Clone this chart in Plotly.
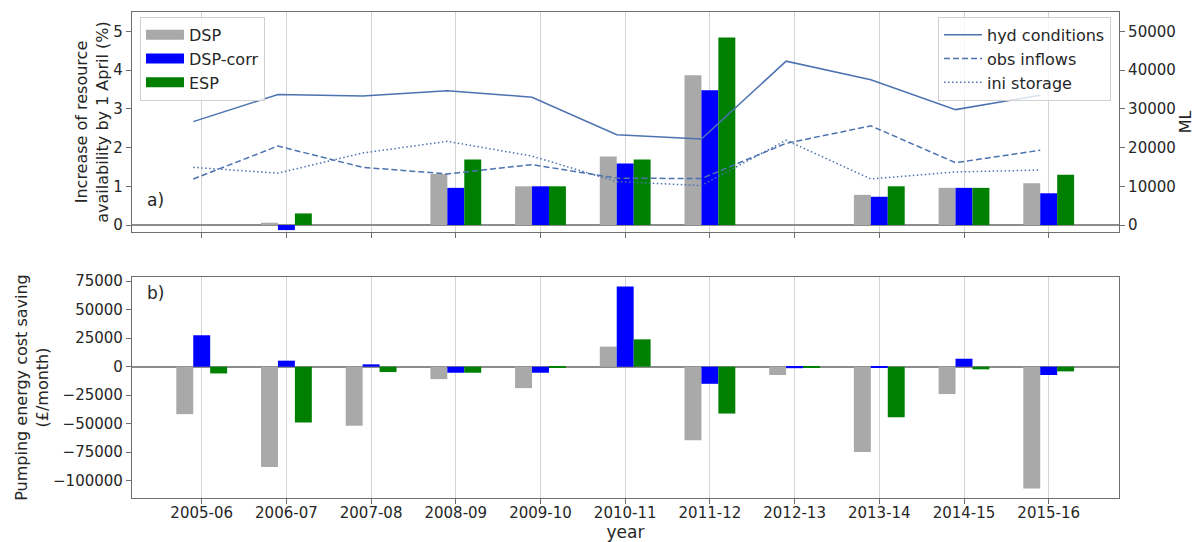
import numpy as np
import plotly.graph_objects as go

# Water years
years = ["2005-06", "2006-07", "2007-08", "2008-09", "2009-10", "2010-11",
         "2011-12", "2012-13", "2013-14", "2014-15", "2015-16"]

# a) Increase of resource availability by 1 April (%)
avail_dsp = [0.0, 0.06, 0.0, 1.32, 1.00, 1.77, 3.87, 0.0, 0.78, 0.96, 1.08]
avail_dsp_corr = [0.0, -0.13, 0.0, 0.96, 1.00, 1.59, 3.48, 0.0, 0.73, 0.96, 0.82]
avail_esp = [0.0, 0.30, 0.0, 1.69, 1.00, 1.69, 4.84, 0.0, 1.00, 0.96, 1.30]

# a) Hydrological indicators (ML)
hyd_conditions = [26700, 33700, 33300, 34700, 33000, 23300, 22200, 42300, 37500, 29800, 33500]
obs_inflows = [11900, 20400, 14900, 13200, 15600, 12100, 12000, 21100, 25600, 16100, 19300]
ini_storage = [14900, 13400, 18600, 21600, 17800, 11200, 10200, 21900, 11900, 13700, 14200]

# b) Pumping energy cost saving (GBP/month)
cost_dsp = [-41600, -88000, -51900, -10900, -18800, 17600, -64500, -7300, -74800, -24000, -106800]
cost_dsp_corr = [27600, 5300, 2100, -5300, -5300, 70400, -15000, -1300, -1000, 7000, -7300]
cost_esp = [-5900, -49000, -4700, -5300, -1000, 24000, -41100, -300, -44300, -2300, -4100]

GREY = "#a9a9a9"
BLUE = "#0000ff"
GREEN = "#008000"
LINE = "#4c72b0"
TXT = "#262626"
FRAME = "#6e6e6e"
GRID = "#d3d3d3"

idx = np.arange(len(years))
bw = 0.2

fig = go.Figure()

bar_sets = [
    ("DSP", GREY, -bw, avail_dsp, cost_dsp),
    ("DSP-corr", BLUE, 0.0, avail_dsp_corr, cost_dsp_corr),
    ("ESP", GREEN, bw, avail_esp, cost_esp),
]

for name, col, off, top_vals, bot_vals in bar_sets:
    fig.add_trace(go.Bar(x=idx + off, y=top_vals, width=bw, marker_color=col,
                         marker_line_width=0, showlegend=False,
                         xaxis="x", yaxis="y", name=name))
    fig.add_trace(go.Bar(x=idx + off, y=bot_vals, width=bw, marker_color=col,
                         marker_line_width=0, showlegend=False,
                         xaxis="x2", yaxis="y3", name=name))
    # wide swatch for the bar legend
    fig.add_trace(go.Scatter(x=[None], y=[None], mode="lines",
                             line=dict(color=col, width=11), name=name,
                             legend="legend", legendgroup=name,
                             xaxis="x", yaxis="y"))

line_sets = [
    ("hyd conditions", hyd_conditions, "solid"),
    ("obs inflows", obs_inflows, "6px,3px"),
    ("ini storage", ini_storage, "1.5px,2.5px"),
]
for name, vals, dash in line_sets:
    fig.add_trace(go.Scatter(x=idx - 0.1, y=vals, mode="lines", name=name,
                             line=dict(color=LINE, width=1.5, dash=dash),
                             legend="legend2", legendgroup=name,
                             xaxis="x", yaxis="y2"))

xr = [-0.823, 10.83]
top_dom = [0.5473, 1.0]
bot_dom = [0.0, 0.4547]

axis_common = dict(showline=True, linecolor=FRAME, linewidth=1.2, mirror=True,
                   ticks="outside", ticklen=5, tickcolor=FRAME, automargin=False,
                   tickfont=dict(size=15, color=TXT))

fig.update_layout(
    width=1200, height=542,
    margin=dict(l=132, r=81, t=12, b=44, autoexpand=False),
    paper_bgcolor="white", plot_bgcolor="white",
    font=dict(family="DejaVu Sans", color=TXT),
    barmode="overlay",
    xaxis=dict(domain=[0, 1], anchor="y", range=xr, tickvals=idx.tolist(),
               showticklabels=False, showgrid=True, gridcolor=GRID, gridwidth=1,
               zeroline=False, layer="above traces", **axis_common),
    yaxis=dict(domain=top_dom, anchor="x", range=[-0.18, 5.5],
               tickvals=[0, 1, 2, 3, 4, 5], showgrid=False,
               zeroline=True, zerolinecolor="#8c8c8c", zerolinewidth=1.5,
               title=dict(text="Increase of resource<br>availability by 1 April (%)",
                          font=dict(size=16, color=TXT), standoff=0),
               **axis_common),
    yaxis2=dict(overlaying="y", side="right", anchor="x", range=[-1800, 55000],
                tickvals=[0, 10000, 20000, 30000, 40000, 50000], tickformat="d",
                showgrid=False, zeroline=False, automargin=False,
                showline=True, linecolor=FRAME, linewidth=1.2,
                ticks="outside", ticklen=5, tickcolor=FRAME,
                tickfont=dict(size=15, color=TXT),
                title=dict(text="ML", font=dict(size=16, color=TXT), standoff=4)),
    xaxis2=dict(domain=[0, 1], anchor="y3", range=xr, tickvals=idx.tolist(),
                ticktext=years, showgrid=True, gridcolor=GRID, gridwidth=1,
                zeroline=False, layer="above traces", ticklabelstandoff=-4,
                title=dict(text="year", font=dict(size=17, color=TXT), standoff=0),
                **axis_common),
    yaxis3=dict(domain=bot_dom, anchor="x2", range=[-115200, 78700],
                tickvals=[-100000, -75000, -50000, -25000, 0, 25000, 50000, 75000],
                tickformat="d", showgrid=False,
                zeroline=True, zerolinecolor="#8c8c8c", zerolinewidth=1.5,
                title=dict(text="Pumping energy cost saving<br>(£/month)",
                           font=dict(size=16, color=TXT), standoff=0),
                **axis_common),
    legend=dict(x=0.0081, y=0.99, xanchor="left", yanchor="top",
                bgcolor="rgba(255,255,255,0.8)", bordercolor="#d0d0d0", borderwidth=1,
                font=dict(size=16, color=TXT), tracegroupgap=0, itemwidth=38),
    legend2=dict(x=0.9919, y=0.99, xanchor="right", yanchor="top",
                 bgcolor="rgba(255,255,255,0.8)", bordercolor="#d0d0d0", borderwidth=1,
                 font=dict(size=16, color=TXT), tracegroupgap=0, itemwidth=38),
    annotations=[
        dict(text="a)", xref="x", yref="y", x=-0.55, y=0.65, showarrow=False,
             font=dict(size=17, color=TXT)),
        dict(text="b)", xref="x2", yref="y3", x=-0.55, y=64500, showarrow=False,
             font=dict(size=17, color=TXT)),
    ],
)

fig.write_html("out.html")
